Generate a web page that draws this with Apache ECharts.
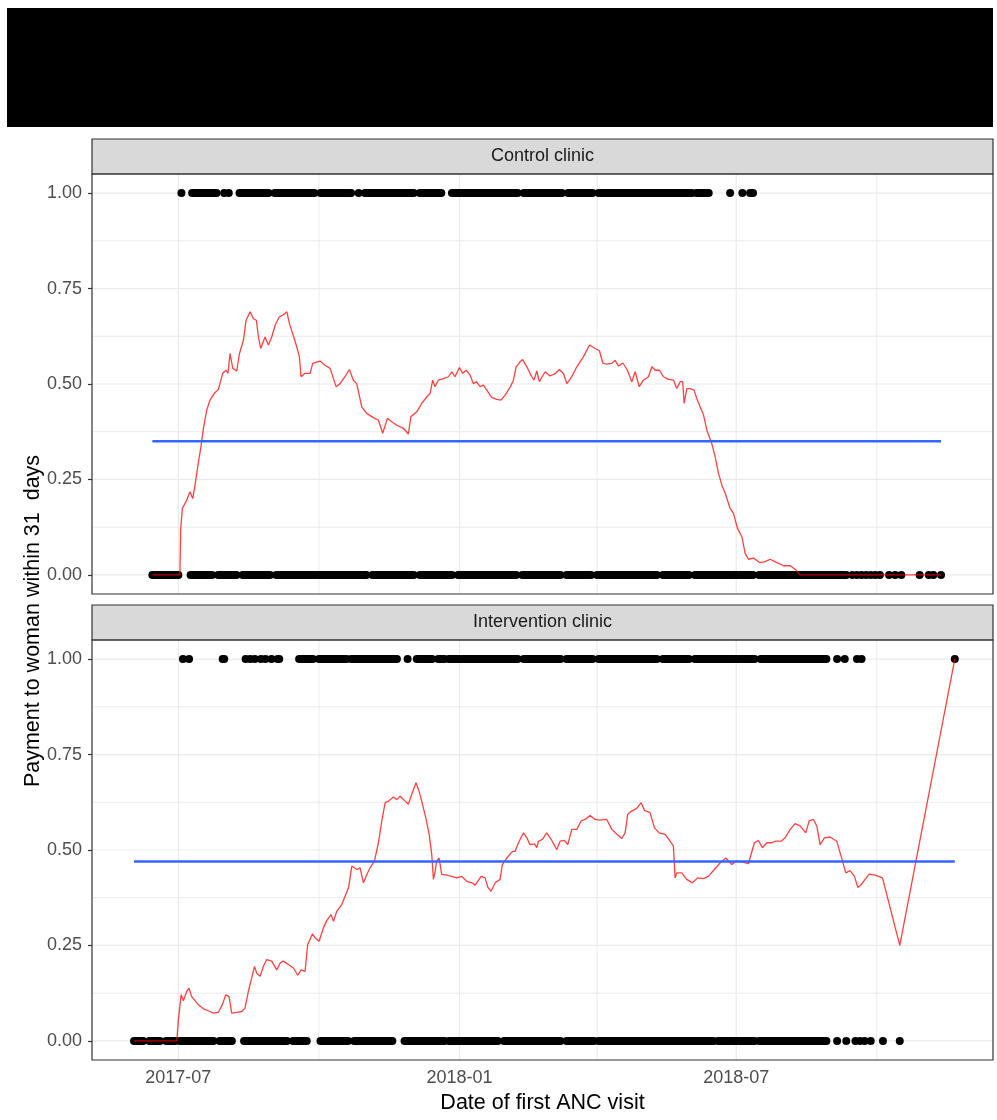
<!DOCTYPE html>
<html>
<head>
<meta charset="utf-8">
<script src="https://cdn.jsdelivr.net/npm/echarts@6/dist/echarts.min.js"></script>
<style>
  html, body { margin: 0; padding: 0; background: #ffffff; }
  #chart { width: 997px; height: 1120px; }
</style>
</head>
<body>
<div id="chart"></div>
<script>
// ---- Data -------------------------------------------------------------
// Days are counted from ORIGIN (2017-07-01).
const ORIGIN = '2017-07-01';

const panelTitles = ['Control clinic', 'Intervention clinic'];

// Axis breaks
const majorDates = ['2017-07-01', '2018-01-01', '2018-07-01'];
const minorDates = ['2017-10-01', '2018-04-01', '2018-10-01'];
const yMajor = [0, 0.25, 0.5, 0.75, 1];
const yMinor = [0.125, 0.375, 0.625, 0.875];

// First-visit dates, as runs of consecutive days [firstDay, lastDay]
const controlPaidRuns = [[2,2],[9,25],[30,30],[33,33],[40,59],[63,89],[93,113],[118,118],[122,154],
  [158,172],[179,222],[226,251],[255,271],[275,336],[339,347],[361,361],[369,369],[374,376]];
const controlUnpaidRuns = [[-17,0],[8,22],[26,38],[42,60],[64,123],[127,154],[158,179],[183,221],
  [225,250],[254,270],[274,313],[317,334],[338,376],[380,437],[441,441],[444,444],[447,447],
  [450,450],[453,453],[456,456],[459,459],[465,465],[469,469],[473,473],[485,485],[491,491],
  [494,494],[499,499]];
const interventionPaidRuns = [[3,3],[7,7],[29,30],[44,44],[47,47],[50,50],[54,54],[57,57],[61,61],
  [65,66],[79,88],[92,110],[113,143],[150,150],[156,166],[170,174],[177,222],[226,250],[254,271],
  [275,313],[317,334],[338,377],[381,424],[431,431],[436,436],[444,444],[447,447],[508,508]];
const interventionUnpaidRuns = [[-29,-23],[-19,-12],[-8,-2],[1,23],[27,35],[43,71],[75,84],[93,111],
  [115,140],[148,174],[177,209],[213,250],[254,272],[275,350],[353,377],[380,424],[431,431],
  [437,437],[443,443],[446,446],[449,449],[453,453],[461,461],[472,472]];

// Rolling share of women paid within 31 days: [day, share]
const controlRolling = [[-17,0],[1,0],[1.5,0.118],[2.6,0.174],[5.5,0.196],[7.6,0.218],[9.4,0.2],
  [10.9,0.235],[13,0.292],[14.8,0.336],[16.4,0.384],[18.6,0.432],[20.7,0.458],[23.4,0.475],
  [26.2,0.486],[29,0.528],[31.2,0.536],[32.5,0.528],[33.8,0.58],[35.6,0.541],[38.2,0.534],[40,0.58],
  [42.6,0.615],[44.3,0.667],[47,0.689],[49.1,0.671],[51,0.667],[52.4,0.623],[53.9,0.593],
  [56.7,0.623],[58.9,0.602],[61.1,0.623],[63.3,0.654],[66.1,0.676],[68.3,0.68],[71,0.689],
  [72.7,0.658],[74.8,0.632],[77.5,0.597],[79.2,0.571],[80.3,0.519],[82.9,0.528],[86.2,0.528],
  [87.9,0.554],[92.7,0.56],[96,0.549],[99.3,0.541],[103.2,0.493],[105.8,0.501],[109,0.519],
  [111.9,0.538],[114.5,0.51],[116.7,0.501],[120,0.44],[123.2,0.423],[127.6,0.412],[130.9,0.405],
  [133.7,0.371],[136.8,0.41],[139.6,0.401],[142.9,0.392],[147.2,0.384],[150.5,0.369],[152.1,0.414],
  [156,0.427],[159.2,0.449],[162.5,0.466],[164.7,0.475],[166.4,0.51],[167.9,0.493],[170.1,0.51],
  [173.4,0.514],[176.7,0.519],[178.9,0.532],[181,0.519],[183.9,0.543],[186,0.528],[188.3,0.536],
  [190.9,0.523],[193,0.501],[195,0.506],[197.4,0.493],[199.6,0.497],[201.8,0.484],[205,0.465],
  [208.3,0.46],[211.1,0.458],[213.8,0.471],[217,0.491],[219.2,0.51],[221,0.545],[223.6,0.558],
  [225.3,0.564],[228,0.545],[231.2,0.519],[232.7,0.51],[234.5,0.534],[236.2,0.506],[238,0.519],
  [240,0.532],[243.2,0.521],[246.5,0.527],[249.3,0.538],[252,0.527],[254.2,0.501],[257.4,0.519],
  [260.7,0.545],[265,0.571],[269,0.602],[272.7,0.593],[275.5,0.587],[277.7,0.555],[280.3,0.552],
  [283.6,0.554],[285.8,0.562],[288,0.547],[290.8,0.555],[293.8,0.536],[296.7,0.506],[298.9,0.532],
  [301.5,0.493],[304.3,0.51],[307.6,0.519],[309.8,0.545],[312,0.536],[314.8,0.536],[317.4,0.519],
  [320.7,0.512],[324,0.51],[326.1,0.488],[328.3,0.506],[330,0.506],[330.9,0.449],[332.7,0.488],
  [334.8,0.488],[337.4,0.484],[339.2,0.462],[341.4,0.44],[343.6,0.419],[345.8,0.379],[349,0.344],
  [351.2,0.31],[353.4,0.266],[355.6,0.235],[357.8,0.214],[361,0.174],[363.2,0.161],[365.8,0.122],
  [368.7,0.1],[370.8,0.057],[373,0.041],[376.3,0.044],[380.6,0.032],[383.9,0.035],[387.2,0.041],
  [391.6,0.032],[395.9,0.024],[400.3,0.024],[403.5,0.015],[406.8,0],[499,0]];

const interventionRolling = [[-29,0],[-1,0],[0,0.055],[1.8,0.121],[3.3,0.105],[5.5,0.13],[7,0.138],
  [8.7,0.116],[13.1,0.095],[16.4,0.084],[19.6,0.079],[22.9,0.073],[26.2,0.075],[28.8,0.095],
  [31,0.121],[33.2,0.116],[34.9,0.073],[38.2,0.075],[41.5,0.077],[43.6,0.086],[45.8,0.13],[48,0.165],
  [49.8,0.195],[51.3,0.177],[53.5,0.169],[55.6,0.195],[57.8,0.213],[61.1,0.209],[64.4,0.186],
  [66.6,0.204],[68.7,0.209],[72,0.2],[75.3,0.191],[78.1,0.172],[80.3,0.186],[82.9,0.182],[84.6,0.252],
  [87.7,0.28],[89.5,0.27],[92.1,0.261],[94.9,0.296],[97.1,0.315],[99.9,0.331],[101.5,0.313],
  [103.6,0.339],[106.9,0.357],[109.1,0.379],[111.3,0.401],[113.5,0.458],[116.8,0.449],[118.9,0.453],
  [121.1,0.414],[123.3,0.436],[125.4,0.453],[128.3,0.471],[130.9,0.519],[133.1,0.576],[135.3,0.624],
  [137.5,0.628],[140.7,0.639],[142.9,0.632],[145.1,0.641],[148.4,0.628],[150.5,0.62],[152.7,0.646],
  [155.5,0.676],[157.5,0.654],[159.7,0.62],[161.9,0.584],[164.1,0.541],[165.8,0.488],[166.9,0.423],
  [168,0.444],[169,0.471],[170.6,0.479],[172.3,0.436],[175.6,0.434],[178.9,0.431],[182.1,0.427],
  [185.4,0.431],[188.7,0.418],[192,0.414],[194.2,0.408],[198.1,0.431],[200.7,0.427],[202.5,0.402],
  [204.6,0.392],[207.3,0.414],[210.5,0.423],[212,0.462],[214.9,0.479],[218.2,0.495],[220.3,0.497],
  [222.5,0.519],[225.8,0.545],[228,0.532],[230.1,0.514],[233,0.516],[234.5,0.506],[235.6,0.523],
  [238.2,0.528],[241,0.545],[243.9,0.528],[247.6,0.501],[249.8,0.523],[252.6,0.525],[254.8,0.514],
  [257.4,0.554],[260.7,0.554],[263.5,0.576],[266.1,0.58],[269.4,0.59],[272.7,0.58],[275.9,0.578],
  [280.3,0.58],[283.6,0.554],[286.8,0.542],[290.1,0.53],[292.3,0.545],[294,0.593],[296.6,0.602],
  [299.9,0.609],[302.8,0.624],[304.9,0.604],[308.6,0.598],[311.5,0.558],[314.5,0.545],[318.5,0.541],
  [321.7,0.523],[323.9,0.51],[325,0.427],[326.1,0.44],[329.4,0.44],[332.6,0.423],[336.3,0.414],
  [339.8,0.427],[343.5,0.425],[346.8,0.431],[350.7,0.449],[354.4,0.466],[358.2,0.479],[362.1,0.462],
  [365.4,0.471],[368.6,0.469],[373,0.464],[376.9,0.519],[379.5,0.525],[382.1,0.506],[385,0.519],
  [388.3,0.519],[390.9,0.523],[394.4,0.523],[397,0.532],[400.3,0.554],[403.5,0.569],[406.8,0.563],
  [410.5,0.545],[412.7,0.576],[415.5,0.58],[417.7,0.563],[419.9,0.514],[422.7,0.532],[426.4,0.534],
  [430.8,0.523],[433.6,0.484],[436.7,0.44],[439.5,0.446],[442.4,0.431],[444.5,0.402],[446.7,0.409],
  [449.3,0.423],[452,0.437],[455.9,0.434],[460.7,0.427],[472,0.25],[508,1]];

// Overall share paid within 31 days per clinic
const overallShare = [0.35, 0.47];

// ---- Helpers ----------------------------------------------------------
const DAY_MS = 86400000;
function dateMs(s) { const [y, m, d] = s.split('-').map(Number); return Date.UTC(y, m - 1, d); }
const T0 = dateMs(ORIGIN);
const dayMs = d => T0 + d * DAY_MS;
function fmtMonth(v) {
  const d = new Date(v);
  return d.getUTCFullYear() + '-' + String(d.getUTCMonth() + 1).padStart(2, '0');
}

const FONT = '"Liberation Sans", Arial, sans-serif';
const PLOT_LEFT = 92, PLOT_WIDTH = 901, PLOT_HEIGHT = 420;
const PANEL_TOPS = [174, 640];
const STRIP_H = 35;
const X_MIN_DAY = -56.5, X_MAX_DAY = 533;
const DOT_R = 4;
const SMALL_TEXT = 18, TITLE_TEXT = 21.5;

const panelRuns = [
  { paid: controlPaidRuns, unpaid: controlUnpaidRuns, rolling: controlRolling },
  { paid: interventionPaidRuns, unpaid: interventionUnpaidRuns, rolling: interventionRolling }
];

const majorTicks = majorDates.map(dateMs);
const vLines = majorDates.map(s => [dateMs(s), 1]).concat(minorDates.map(s => [dateMs(s), 0]));
const hLines = yMajor.map(v => [v, 1]).concat(yMinor.map(v => [v, 0]));

// ---- Series renderers -------------------------------------------------
function renderRun(params, api) {
  const y = api.value(2);
  const a = api.coord([api.value(0), y]);
  const b = api.coord([api.value(1), y]);
  return {
    type: 'rect',
    shape: { x: a[0] - DOT_R, y: a[1] - DOT_R, width: (b[0] - a[0]) + 2 * DOT_R, height: 2 * DOT_R, r: DOT_R },
    style: { fill: '#000000' }
  };
}
function renderVLine(params, api) {
  const cs = params.coordSys;
  const x = api.coord([api.value(0), 0])[0];
  return {
    type: 'line',
    shape: { x1: x, y1: cs.y, x2: x, y2: cs.y + cs.height },
    style: { stroke: '#EBEBEB', lineWidth: api.value(1) ? 1.2 : 1 }
  };
}
function renderHLine(params, api) {
  const cs = params.coordSys;
  const y = api.coord([dayMs(0), api.value(0)])[1];
  return {
    type: 'line',
    shape: { x1: cs.x, y1: y, x2: cs.x + cs.width, y2: y },
    style: { stroke: '#EBEBEB', lineWidth: api.value(1) ? 1.2 : 1 }
  };
}

// ---- Option -----------------------------------------------------------
const grids = [], xAxes = [], yAxes = [], series = [], graphics = [];

graphics.push({ type: 'rect', shape: { x: 7, y: 8, width: 986, height: 119 }, style: { fill: '#000000' }, z: 0 });

panelTitles.forEach((title, i) => {
  const top = PANEL_TOPS[i];
  grids.push({ left: PLOT_LEFT, top: top, width: PLOT_WIDTH, height: PLOT_HEIGHT, containLabel: false });

  xAxes.push({
    type: 'value', gridIndex: i, min: dayMs(X_MIN_DAY), max: dayMs(X_MAX_DAY),
    axisLine: { show: false }, splitLine: { show: false },
    axisTick: { show: i === 1, customValues: majorTicks, length: 4, lineStyle: { color: '#333333', width: 1.2 } },
    axisLabel: { show: i === 1, customValues: majorTicks, formatter: fmtMonth, color: '#4D4D4D',
      fontSize: SMALL_TEXT, fontFamily: FONT, margin: 9 }
  });
  yAxes.push({
    type: 'value', gridIndex: i, min: -0.05, max: 1.05,
    axisLine: { show: false }, splitLine: { show: false },
    axisTick: { show: true, customValues: yMajor, length: 4, lineStyle: { color: '#333333', width: 1.2 } },
    axisLabel: { customValues: yMajor, formatter: v => v.toFixed(2), color: '#4D4D4D',
      fontSize: SMALL_TEXT, fontFamily: FONT, margin: 10 }
  });

  const p = panelRuns[i];
  const axisRef = { xAxisIndex: i, yAxisIndex: i };

  series.push(Object.assign({ type: 'custom', name: 'vgrid' + i, renderItem: renderVLine, data: vLines,
    silent: true, z: 1, animation: false }, axisRef));
  series.push(Object.assign({ type: 'custom', name: 'hgrid' + i, renderItem: renderHLine, data: hLines,
    silent: true, z: 1, animation: false }, axisRef));

  const runData = p.paid.map(r => [dayMs(r[0]), dayMs(r[1]), 1])
    .concat(p.unpaid.map(r => [dayMs(r[0]), dayMs(r[1]), 0]));
  series.push(Object.assign({ type: 'custom', name: 'visits' + i, renderItem: renderRun, data: runData,
    encode: { x: [0, 1], y: 2 }, silent: true, z: 2, animation: false }, axisRef));

  series.push(Object.assign({ type: 'line', name: 'rolling' + i,
    data: p.rolling.map(r => [dayMs(r[0]), r[1]]),
    showSymbol: false, symbol: 'none', silent: true, z: 3, animation: false,
    lineStyle: { color: '#FF0000', width: 1.3, opacity: 0.75 } }, axisRef));

  const allDays = p.paid.concat(p.unpaid).flat();
  const first = Math.min.apply(null, allDays), last = Math.max.apply(null, allDays);
  series.push(Object.assign({ type: 'line', name: 'overall' + i,
    data: [[dayMs(first), overallShare[i]], [dayMs(last), overallShare[i]]],
    showSymbol: false, symbol: 'none', silent: true, z: 4, animation: false,
    lineStyle: { color: '#3366FF', width: 2.6 } }, axisRef));

  // facet strip
  graphics.push({ type: 'rect', shape: { x: PLOT_LEFT, y: top - STRIP_H, width: PLOT_WIDTH, height: STRIP_H },
    style: { fill: '#D9D9D9', stroke: '#333333', lineWidth: 1.2 }, z: 50 });
  graphics.push({ type: 'text', x: PLOT_LEFT + PLOT_WIDTH / 2, y: top - STRIP_H / 2,
    style: { text: title, fontSize: SMALL_TEXT, fontFamily: FONT, fill: '#1A1A1A', align: 'center', verticalAlign: 'middle' }, z: 51 });
  // panel border
  graphics.push({ type: 'rect', shape: { x: PLOT_LEFT, y: top, width: PLOT_WIDTH, height: PLOT_HEIGHT },
    style: { fill: null, stroke: '#333333', lineWidth: 1.2 }, z: 100 });
});

graphics.push({ type: 'text', x: 33, y: 621, rotation: Math.PI / 2,
  style: { text: 'Payment to woman within 31  days', fontSize: TITLE_TEXT, fontFamily: FONT, fill: '#000000',
    align: 'center', verticalAlign: 'middle' }, z: 50 });
graphics.push({ type: 'text', x: PLOT_LEFT + PLOT_WIDTH / 2, y: 1103,
  style: { text: 'Date of first ANC visit', fontSize: TITLE_TEXT, fontFamily: FONT, fill: '#000000',
    align: 'center', verticalAlign: 'middle' }, z: 50 });

const chart = echarts.init(document.getElementById('chart'), null, { renderer: 'canvas' });
chart.setOption({
  backgroundColor: '#ffffff',
  animation: false,
  grid: grids,
  xAxis: xAxes,
  yAxis: yAxes,
  series: series,
  graphic: { elements: graphics }
});
</script>
</body>
</html>
